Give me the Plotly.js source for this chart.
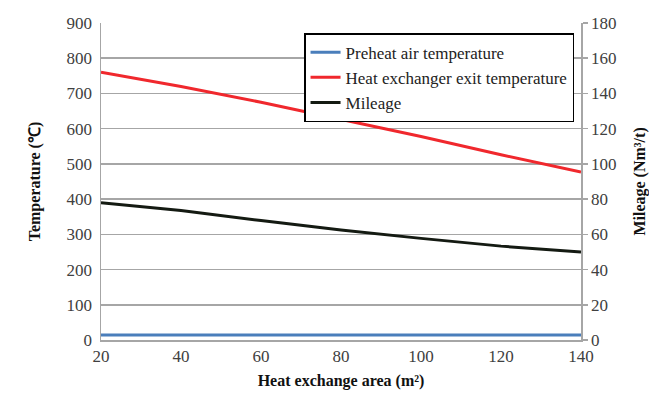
<!DOCTYPE html>
<html>
<head>
<meta charset="utf-8">
<script src="https://cdn.plot.ly/plotly-3.0.1.min.js"></script>
<style>html,body{margin:0;padding:0;background:#fff;}#chart{width:649px;height:394px;}</style>
</head>
<body>
<div id="chart"></div>
<script>
const area = [20, 40, 60, 80, 100, 120, 140];
const preheatAir = [14, 14, 14, 14, 14, 14, 14];
const exitTemp = [760, 720, 675, 626, 578, 526, 477];
const mileage = [78, 73.5, 67.8, 62.5, 57.7, 53.3, 50];
const xTicks = [20, 40, 60, 80, 100, 120, 140];
const leftTicks = [0, 100, 200, 300, 400, 500, 600, 700, 800, 900];
const rightTicks = [0, 20, 40, 60, 80, 100, 120, 140, 160, 180];

const serif = "Liberation Serif";
const tickFont = {family: serif, size: 17, color: "#404040"};
const titleFont = {family: serif, size: 16, color: "#111"};
const traces = [
  {x: area, y: preheatAir, name: "Preheat air temperature", mode: "lines", line: {color: "#4a7ebb", width: 3}, yaxis: "y"},
  {x: area, y: exitTemp, name: "Heat exchanger exit temperature", mode: "lines", line: {color: "#f0282d", width: 3}, yaxis: "y"},
  {x: area, y: mileage, name: "Mileage", mode: "lines", line: {color: "#141a12", width: 3}, yaxis: "y2"}
];
const layout = {
  width: 649, height: 394,
  margin: {l: 101, r: 68, t: 23, b: 54},
  paper_bgcolor: "#fff", plot_bgcolor: "#fff",
  font: {family: serif, size: 17, color: "#404040"},
  showlegend: true,
  legend: {x: 0.423, y: 0.968, xanchor: "left", yanchor: "top", bgcolor: "#fff",
    bordercolor: "#000", borderwidth: 1.5, font: {family: serif, size: 17, color: "#222"},
    tracegroupgap: 0, itemwidth: 30},
  xaxis: {range: [20, 140], tickvals: xTicks, ticktext: xTicks.map(String), tickfont: tickFont,
    showgrid: false, zeroline: false, showline: true, linecolor: "#a6a6a6", linewidth: 1.5,
    ticks: "", mirror: false,
    title: {text: "<b>Heat exchange area (m²)</b>", font: titleFont, standoff: 10}},
  yaxis: {range: [0, 900], tickvals: leftTicks, ticktext: leftTicks.map(String), tickfont: tickFont,
    showgrid: true, gridcolor: "#a6a6a6", gridwidth: 1.5, zeroline: false,
    showline: true, linecolor: "#a6a6a6", linewidth: 1.5, ticks: "", ticklabelstandoff: 4,
    title: {text: "<b>Temperature (℃)</b>", font: titleFont, standoff: 22}},
  yaxis2: {range: [0, 180], tickvals: rightTicks, ticktext: rightTicks.map(String), tickfont: tickFont,
    overlaying: "y", side: "right", showgrid: false, zeroline: false,
    showline: true, linecolor: "#a6a6a6", linewidth: 1.5, ticks: "outside", ticklen: 5, tickcolor: "#a6a6a6", tickwidth: 1.5},
  annotations: [{text: "<b>Mileage (Nm³/t)</b>", xref: "paper", yref: "paper", x: 1.121, y: 0.5,
    xanchor: "center", yanchor: "middle", textangle: -90, showarrow: false, font: titleFont}]
};
Plotly.newPlot("chart", traces, layout, {displayModeBar: false, staticPlot: true});
</script>
</body>
</html>
